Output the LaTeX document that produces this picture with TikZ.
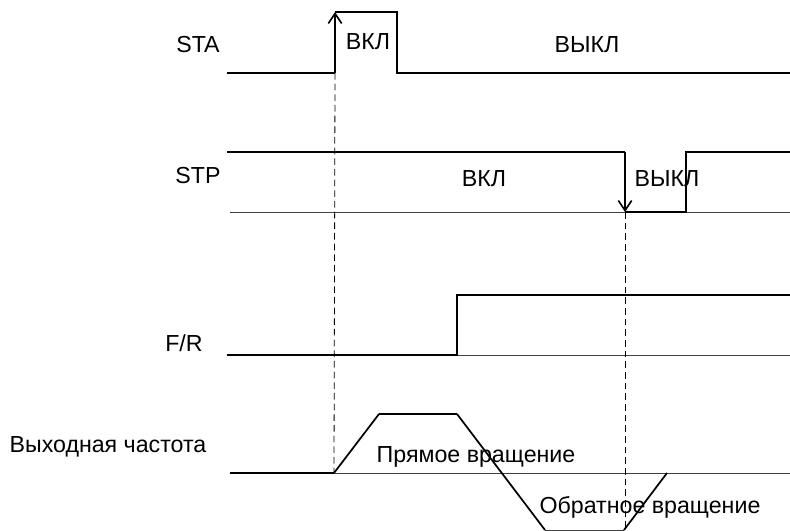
\documentclass[tikz,border=0pt]{standalone}
\usepackage{fontspec}
\setmainfont{Liberation Sans}
\usetikzlibrary{arrows.meta,positioning}

\begin{document}
\begin{tikzpicture}[
    x=0.75pt, y=-0.75pt,
    lbl/.style={font=\fontsize{17.4}{20}\selectfont, inner sep=0pt, anchor=base},
    sig/.style={line width=1.8pt},
    slope/.style={line width=1.3pt},
    base/.style={line width=0.7pt, black!75},
    edgearrow/.style={sig, -{Straight Barb[length=7.5pt,width=10pt,line width=1.2pt]}},
    guide/.style={line width=0.6pt, dash pattern=on 5pt off 3pt}
]
    \useasboundingbox (0,0) rectangle (790,531);

    % signal names
    \node[lbl] (sta) at (198,53) {STA};
    \node[lbl] (stp) at (198,184) {STP};
    \node[lbl] (fr) at (184,352) {F/R};
    \node[lbl] (freq) at (108,452) {Выходная частота};

    % STA
    \coordinate (sta0) at (227,73);
    \coordinate (staup) at (335,73);
    \coordinate (stahi) at (335,12);
    \coordinate (stahe) at (397,12);
    \coordinate (stadn) at (397,73);
    \coordinate (sta1) at (790,73);
    \draw[sig] (sta0) -- (staup);
    \draw[edgearrow] (staup) -- (stahi);
    \draw[sig] (stahi) -- (stahe) -- (stadn) -- (sta1);
    \node[lbl] (staon) at (368,50) {ВКЛ};
    \node[lbl] (staoff) at (587,53) {ВЫКЛ};

    % STP
    \coordinate (stp0) at (227,152);
    \coordinate (stpdn) at (625,152);
    \coordinate (stplo) at (625,212);
    \coordinate (stple) at (686,212);
    \coordinate (stpup) at (686,152);
    \coordinate (stp1) at (790,152);
    \coordinate (stpb0) at (230,212);
    \coordinate (stpb1) at (790,212);
    \draw[base] (stpb0) -- (stpb1);
    \draw[sig] (stp0) -- (stpdn);
    \draw[edgearrow] (stpdn) -- (stplo);
    \draw[sig] (stplo) -- (stple) -- (stpup) -- (stp1);
    \node[lbl] (stpon) at (484,187) {ВКЛ};
    \node[lbl] (stpoff) at (667,187) {ВЫКЛ};

    % F/R
    \coordinate (fr0) at (227,355);
    \coordinate (frup) at (457,355);
    \coordinate (frhi) at (457,295);
    \coordinate (fr1) at (790,295);
    \coordinate (frb1) at (790,355);
    \draw[base] (frup) -- (frb1);
    \draw[sig] (fr0) -- (frup) -- (frhi) -- (fr1);

    % output frequency
    \coordinate (fq0) at (230,473);
    \coordinate (fqa) at (334,473);
    \coordinate (fqb) at (379,414);
    \coordinate (fqc) at (457,414);
    \coordinate (fqd) at (545,530);
    \coordinate (fqe) at (624,530);
    \coordinate (fqf) at (667,473);
    \coordinate (fq1) at (790,473);
    \draw[base] (fqa) -- (fq1);
    \draw[base] (fqd) -- (fqe);
    \draw[sig] (fq0) -- (fqa);
    \draw[sig] (fqb) -- (fqc);
    \draw[slope] (fqa) -- (fqb);
    \draw[slope] (fqc) -- (fqd);
    \draw[slope] (fqe) -- (fqf);
    \node[lbl] (fwd) at (476,462) {Прямое вращение};
    \node[lbl] (rev) at (650,513) {Обратное вращение};

    % timing guides
    \draw[guide] (staup) -- (fqa);
    \draw[guide] (stplo) -- (625,530);
\end{tikzpicture}
\end{document}
